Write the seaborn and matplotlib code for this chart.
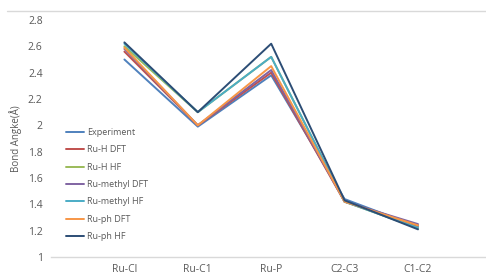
import pandas as pd
import numpy as np
import matplotlib
matplotlib.use('Agg')
import matplotlib.pyplot as plt
import seaborn as sns

# bond categories and values
bonds = ['Ru-Cl', 'Ru-C1', 'Ru-P', 'C2-C3', 'C1-C2']
experiment = [2.50, 1.99, 2.38, 1.44, 1.23]
ruh_dft = [2.56, 2.00, 2.40, 1.42, 1.24]
ruh_hf = [2.60, 2.10, 2.52, 1.42, 1.22]
rumethyl_dft = [2.58, 2.00, 2.42, 1.42, 1.25]
rumethyl_hf = [2.62, 2.10, 2.52, 1.42, 1.22]
ruph_dft = [2.59, 2.00, 2.45, 1.42, 1.24]
ruph_hf = [2.63, 2.10, 2.62, 1.43, 1.21]

series = ['Experiment', 'Ru-H DFT', 'Ru-H HF', 'Ru-methyl DFT',
          'Ru-methyl HF', 'Ru-ph DFT', 'Ru-ph HF']
colors = ['#4F81BD', '#C0504D', '#9BBB59', '#8064A2',
          '#4BACC6', '#F79646', '#2C4D75']

values = [experiment, ruh_dft, ruh_hf, rumethyl_dft, rumethyl_hf, ruph_dft, ruph_hf]
df = pd.DataFrame({
    'bond': bonds * len(series),
    'angle': np.concatenate(values),
    'series': np.repeat(series, len(bonds)),
})

sns.set_style('white')
plt.rcParams['font.family'] = ['Open Sans', 'DejaVu Sans']

fig = plt.figure(figsize=(4.86, 2.78), dpi=100)
ax = fig.add_axes([51 / 486, 21 / 278, 6 * 73.4 / 486, 237 / 278])

sns.lineplot(data=df, x='bond', y='angle', hue='series', palette=colors,
             sort=False, linewidth=1.4, ax=ax)

ax.set_xlim(-1, 5)
ax.set_ylim(1, 2.8)
ax.set_yticks(np.arange(1, 2.81, 0.2))
ax.set_yticklabels(['1', '1.2', '1.4', '1.6', '1.8', '2', '2.2', '2.4', '2.6', '2.8'])
ax.set_xticks(range(-1, 5))
ax.set_xticklabels([''] + bonds)
ax.tick_params(axis='x', length=3, color='#D9D9D9', labelsize=7.5, labelcolor='#595959', pad=2)
ax.tick_params(axis='y', length=0, labelsize=7.5, labelcolor='#595959', pad=6)
ax.set_xlabel('')
ax.set_ylabel('Bond Angke(Å)', fontsize=7, color='#595959', labelpad=4)

for s in ['top', 'right', 'left']:
    ax.spines[s].set_visible(False)
ax.spines['bottom'].set_color('#D9D9D9')
ax.spines['bottom'].set_linewidth(1)

leg = ax.legend(loc='upper left', bbox_to_anchor=(0.015, 0.578), frameon=False,
                fontsize=6.5, handlelength=2.0, handletextpad=0.4,
                labelspacing=0.92, labelcolor='#595959')
for line in leg.get_lines():
    line.set_linewidth(1.4)

# chart border line at the top
fig.add_artist(plt.Line2D([7 / 486, 1], [1 - 11 / 278, 1 - 11 / 278],
                          color='#D9D9D9', linewidth=1, transform=fig.transFigure))

fig.savefig('out.png', dpi=100)
